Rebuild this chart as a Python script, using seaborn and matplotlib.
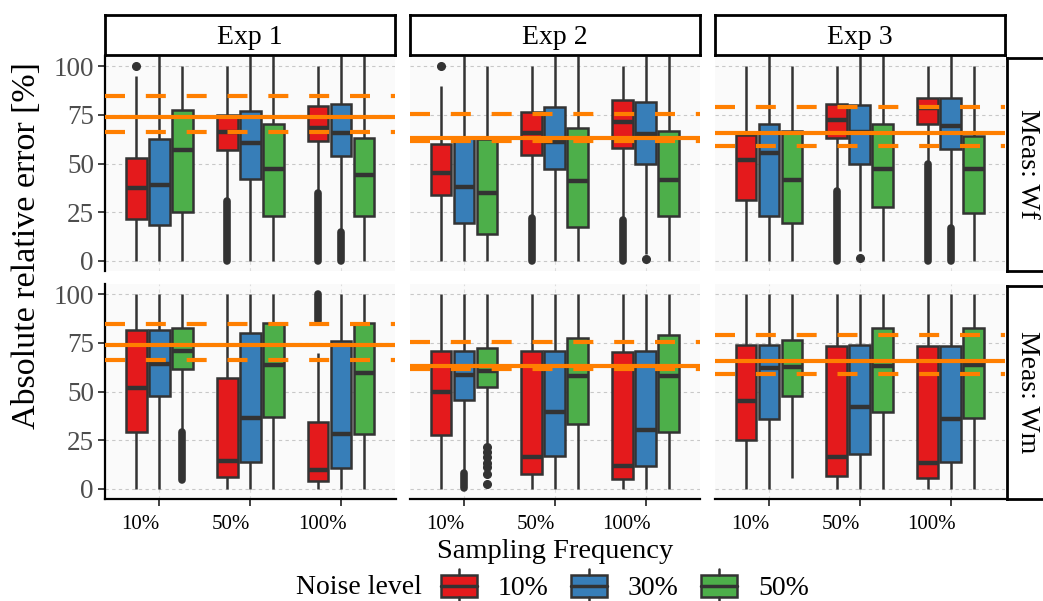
import numpy as np
import pandas as pd
import seaborn as sns
import matplotlib.pyplot as plt
from matplotlib.patches import Patch, Rectangle
from matplotlib.lines import Line2D
from matplotlib.legend_handler import HandlerBase
from matplotlib.transforms import ScaledTranslation

# ---- data ----------------------------------------------------------------
freq_levels = ['10%', '50%', '100%']
noise_levels = ['10%', '30%', '50%']
experiments = ['Exp 1', 'Exp 2', 'Exp 3']
measures = ['Wf', 'Wm']

# box summaries (whisker low, q1, median, q3, whisker high), order:
# freq 10% -> noise 10/30/50, freq 50% -> ..., freq 100% -> ...
wf_exp1 = [(0, 21.4, 37.6, 52.7, 95), (0, 18.5, 39.0, 62.7, 105), (0, 25.1, 56.8, 77.6, 100),
           (32, 56.9, 66.2, 75.0, 100), (0, 42.2, 60.7, 76.9, 105), (0, 23.1, 47.0, 70.1, 105),
           (36, 61.5, 68.4, 79.3, 100), (16, 53.8, 65.8, 80.3, 105), (0, 23.1, 44.1, 63.2, 105)]
wf_exp2 = [(0, 33.8, 45.0, 59.8, 90), (0, 19.3, 38.1, 63.5, 105), (0, 13.7, 35.0, 62.4, 100),
           (23, 54.4, 65.8, 76.6, 100), (0, 47.0, 61.2, 79.0, 105), (0, 17.4, 41.0, 68.4, 105),
           (22, 57.8, 71.4, 82.4, 100), (3.6, 49.6, 65.3, 81.5, 105), (0, 23.1, 41.5, 66.7, 105)]
wf_exp3 = [(0, 31.3, 51.6, 64.6, 100), (0, 23.1, 55.2, 70.1, 105), (0, 19.3, 41.4, 66.7, 100),
           (37, 62.9, 72.3, 80.7, 100), (5, 49.9, 66.0, 80.0, 105), (0, 27.9, 47.0, 70.4, 105),
           (51, 70.4, 78.3, 83.8, 100), (18, 57.3, 69.2, 83.4, 105), (0, 24.8, 47.0, 64.1, 100)]
wm_exp1 = [(0, 29.1, 51.6, 81.5, 100), (0, 47.9, 64.1, 81.5, 100), (30, 61.4, 70.9, 82.4, 100),
           (0, 6.3, 14.4, 56.8, 100), (0, 14.0, 36.6, 80.2, 100), (0, 37.1, 63.6, 85.3, 100),
           (0, 4.1, 9.7, 34.5, 70), (0, 10.9, 28.2, 76.0, 100), (0, 28.2, 59.6, 85.3, 100)]
wm_exp2 = [(0, 27.7, 49.9, 70.8, 100), (9, 45.6, 58.5, 70.8, 100), (23.4, 52.5, 60.7, 72.5, 100),
           (0, 7.5, 16.6, 70.8, 100), (0, 17.1, 39.3, 70.8, 100), (0, 33.3, 57.9, 77.6, 100),
           (0, 5.1, 11.8, 70.1, 100), (0, 12.0, 30.3, 70.8, 100), (0, 29.1, 57.9, 79.0, 100)]
wm_exp3 = [(0, 25.1, 45.1, 73.8, 100), (0, 35.9, 62.2, 73.8, 100), (5.5, 47.9, 62.7, 76.4, 100),
           (0, 6.7, 16.6, 73.3, 100), (0, 17.9, 41.9, 73.8, 100), (0, 39.6, 63.2, 82.4, 100),
           (0, 5.5, 13.2, 73.5, 100), (0, 13.7, 35.7, 73.5, 100), (0, 36.2, 63.6, 82.4, 100)]
box_stats = {('Wf', 'Exp 1'): wf_exp1, ('Wf', 'Exp 2'): wf_exp2, ('Wf', 'Exp 3'): wf_exp3,
             ('Wm', 'Exp 1'): wm_exp1, ('Wm', 'Exp 2'): wm_exp2, ('Wm', 'Exp 3'): wm_exp3}

# single outliers: (measure, experiment, freq, noise, value)
outliers = [('Wf', 'Exp 1', '10%', '10%', 100), ('Wf', 'Exp 2', '10%', '10%', 100),
            ('Wf', 'Exp 2', '100%', '30%', 1), ('Wf', 'Exp 3', '50%', '30%', 1.5),
            ('Wm', 'Exp 2', '10%', '50%', 21.7), ('Wm', 'Exp 2', '10%', '50%', 19.1),
            ('Wm', 'Exp 2', '10%', '50%', 16.6), ('Wm', 'Exp 2', '10%', '50%', 13.5),
            ('Wm', 'Exp 2', '10%', '50%', 11.1), ('Wm', 'Exp 2', '10%', '50%', 7.5),
            ('Wm', 'Exp 2', '10%', '50%', 2.6)]
# runs of overlapping outliers: (measure, experiment, freq, noise, low, high)
outlier_runs = [('Wf', 'Exp 1', '50%', '10%', 0, 31), ('Wf', 'Exp 1', '100%', '10%', 0, 35),
                ('Wf', 'Exp 1', '100%', '30%', 0, 15), ('Wf', 'Exp 2', '50%', '10%', 0, 22),
                ('Wf', 'Exp 2', '100%', '10%', 0, 21), ('Wf', 'Exp 3', '50%', '10%', 0, 36),
                ('Wf', 'Exp 3', '100%', '10%', 0, 50), ('Wf', 'Exp 3', '100%', '30%', 0, 17),
                ('Wm', 'Exp 1', '10%', '50%', 4.6, 29), ('Wm', 'Exp 1', '100%', '10%', 86, 100),
                ('Wm', 'Exp 2', '10%', '30%', 0.5, 8)]

# orange reference lines per experiment
ref_mean = [73.9, 63.0, 65.6]
ref_upper = [84.4, 75.3, 78.8]
ref_lower = [66.0, 61.3, 59.2]

palette = ['#E41A1C', '#377EB8', '#4DAF4A']
EDGE = '#333333'
ORANGE = '#FF7F00'

# ---- style -----------------------------------------------------------------
sns.set_theme(style='white')
plt.rcParams['font.family'] = ['Liberation Serif', 'DejaVu Serif']
plt.rcParams['text.color'] = 'black'

W, H = 1043, 601
fig = plt.figure(figsize=(W / 100, H / 100), dpi=100)


def rect(x0, y0, x1, y1):
    return [x0 / W, 1 - y1 / H, (x1 - x0) / W, (y1 - y0) / H]


col_x = [(105, 395.5), (409.5, 700), (714.5, 1005)]
row_y = [(56.25, 270.75), (284.25, 498.75)]
width = 0.76
offsets = {n: (i - 1) * width / 3 for i, n in enumerate(noise_levels)}

for r, meas in enumerate(measures):
    for c, exp in enumerate(experiments):
        ax = fig.add_axes(rect(col_x[c][0], row_y[r][0], col_x[c][1], row_y[r][1]))
        ax.set_facecolor('#FAFAFA')
        rows = []
        for k, s in enumerate(box_stats[(meas, exp)]):
            for v in s:
                rows.append({'freq': freq_levels[k // 3], 'noise': noise_levels[k % 3], 'value': v})
        df = pd.DataFrame(rows)
        sns.boxplot(data=df, x='freq', y='value', hue='noise', order=freq_levels,
                    hue_order=noise_levels, palette=palette, saturation=1, width=width,
                    gap=0.1, whis=(0, 100), linecolor=EDGE, linewidth=1.8, fliersize=0,
                    legend=False, ax=ax, medianprops=dict(linewidth=3.2),
                    capprops=dict(linewidth=0))
        for m, e, f, n, v in outliers:
            if (m, e) == (meas, exp):
                ax.plot(freq_levels.index(f) + offsets[n], v, 'o', ms=5.5, color=EDGE, zorder=4)
        for m, e, f, n, lo, hi in outlier_runs:
            if (m, e) == (meas, exp):
                xx = freq_levels.index(f) + offsets[n]
                ax.plot([xx, xx], [lo, hi], color=EDGE, lw=5.5, solid_capstyle='round', zorder=4)

        ax.axhline(ref_mean[c], color=ORANGE, lw=3, zorder=5)
        for yv in (ref_upper[c], ref_lower[c]):
            ax.axhline(yv, color=ORANGE, lw=3, dashes=(4.8, 5.0), dash_capstyle='butt', zorder=5)

        ax.set_xlim(-0.6, 2.6)
        ax.set_ylim(-5, 105)
        ax.set_yticks([0, 25, 50, 75, 100])
        ax.set_xlabel('')
        ax.set_ylabel('')
        ax.grid(axis='y', color='#C8C8C8', lw=0.8, linestyle=(0, (3, 3)))
        ax.grid(axis='x', color='#DDDDDD', lw=0.8, linestyle=(0, (3, 3)))
        ax.set_axisbelow(True)
        for sp in ax.spines.values():
            sp.set_visible(False)
        ax.tick_params(colors=EDGE, width=1.3, length=5)
        if c == 0:
            ax.spines['left'].set_visible(True)
            ax.spines['left'].set_color('black')
            ax.spines['left'].set_linewidth(1.6)
            ax.tick_params(axis='y', labelsize=19.5, labelcolor='#4D4D4D', pad=3, left=True)
        else:
            ax.tick_params(axis='y', left=False, labelleft=False)
        if r == 1:
            ax.spines['bottom'].set_visible(True)
            ax.spines['bottom'].set_color('black')
            ax.spines['bottom'].set_linewidth(1.6)
            ax.tick_params(axis='x', labelsize=15, labelcolor='black', pad=7, bottom=True)
            for lab in ax.get_xticklabels():
                lab.set_transform(lab.get_transform() + ScaledTranslation(-0.19, 0, fig.dpi_scale_trans))
        else:
            ax.tick_params(axis='x', bottom=False, labelbottom=False)

        if r == 0:
            st = fig.add_axes(rect(col_x[c][0], 15, col_x[c][1], 55))
            st.set_xticks([])
            st.set_yticks([])
            st.set_facecolor('white')
            for sp in st.spines.values():
                sp.set_color('black')
                sp.set_linewidth(2)
            st.text(0.5, 0.45, exp, ha='center', va='center', fontsize=20,
                    color='black', transform=st.transAxes)
        if c == 2:
            st = fig.add_axes(rect(1007, row_y[r][0] + 1.5, 1052, row_y[r][1]))
            st.set_xticks([])
            st.set_yticks([])
            st.set_facecolor('white')
            for sp in st.spines.values():
                sp.set_color('black')
                sp.set_linewidth(2)
            st.text(0.45, 0.5, 'Meas: ' + meas, ha='center', va='center', rotation=-90,
                    fontsize=20, color='black', transform=st.transAxes)

fig.text(27 / W, 1 - 246 / H, 'Absolute relative error [%]', rotation=90,
         ha='center', va='center', fontsize=24.5, color='black')
fig.text(555 / W, 1 - 552 / H, 'Sampling Frequency', ha='center', va='center',
         fontsize=20.5, color='black')


class BoxKey(HandlerBase):
    def create_artists(self, legend, orig_handle, xdescent, ydescent, width, height, fontsize, trans):
        x0, y0 = -xdescent, -ydescent
        cx = x0 + width / 2
        box = Rectangle((x0, y0), width, height, facecolor=orig_handle.get_facecolor(),
                        edgecolor=EDGE, linewidth=1.8, transform=trans)
        med = Line2D([x0, x0 + width], [y0 + height / 2] * 2, color=EDGE, lw=2.5, transform=trans)
        top = Line2D([cx, cx], [y0 + height, y0 + height * 1.25], color=EDGE, lw=1.8, transform=trans)
        bot = Line2D([cx, cx], [y0, y0 - height * 0.25], color=EDGE, lw=1.8, transform=trans)
        return [box, med, top, bot]


handles = [Patch(facecolor=col, label=lab) for col, lab in zip(palette, noise_levels)]
fig.text(296 / W, 1 - 588 / H, 'Noise level', ha='left', va='center', fontsize=20, color='black')
leg = fig.legend(handles=handles, handler_map={Patch: BoxKey()}, loc='center left',
                 bbox_to_anchor=(441 / W, 1 - 588 / H), ncol=3, frameon=False, fontsize=20,
                 borderpad=0, borderaxespad=0, handlelength=1.3, handleheight=0.85,
                 handletextpad=0.75, columnspacing=0.8)
for t in leg.get_texts():
    t.set_color('black')

fig.savefig('out.png', dpi=100)
